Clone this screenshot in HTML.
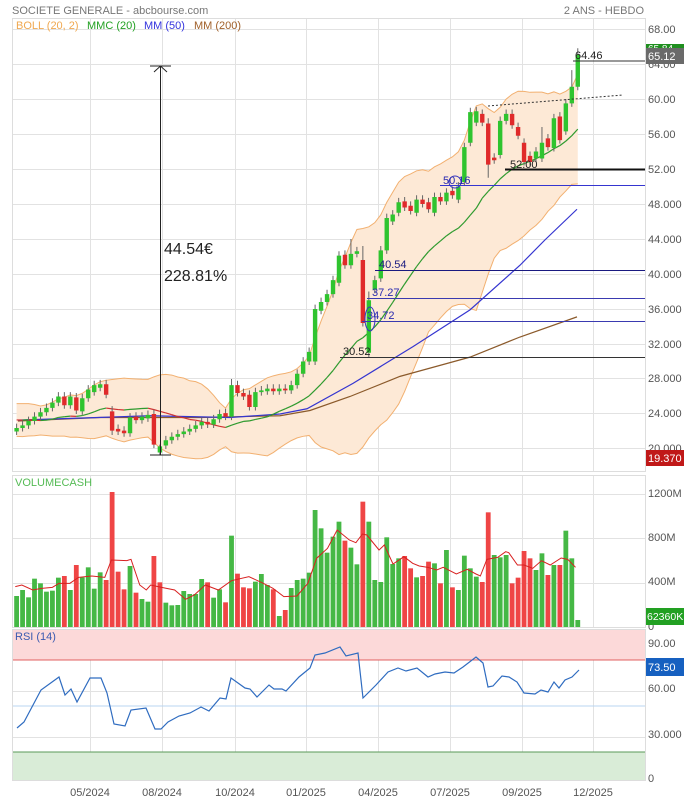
<!DOCTYPE html>
<html><head><meta charset="utf-8"><style>
body{margin:0;background:#fff;width:684px;height:800px;overflow:hidden;font-family:"Liberation Sans",sans-serif}
svg text{font-family:"Liberation Sans",sans-serif}
</style></head><body>
<svg id="s" width="684" height="800" xmlns="http://www.w3.org/2000/svg">
<rect width="684" height="800" fill="#fff"/>
<g id="grid" stroke="#e2e2e2" stroke-width="1"></g>
<rect x="12.5" y="18.5" width="633" height="453" fill="none" stroke="#ddd"/>
<rect x="12.5" y="475.5" width="633" height="152" fill="none" stroke="#ddd"/>
<rect x="12.5" y="629.5" width="633" height="151" fill="none" stroke="#ddd"/>
<!-- RSI bands -->
<rect x="13" y="630" width="632" height="30" fill="#fcd9d9"/>
<line x1="13" x2="645" y1="660" y2="660" stroke="#e06060"/>
<rect x="13" y="752" width="632" height="28" fill="#d9ecd7"/>
<line x1="13" x2="645" y1="752" y2="752" stroke="#5a9a5a"/>
<line x1="13" x2="645" y1="706" y2="706" stroke="#b8d4f0"/>
<g id="band"></g>
<g id="lines"></g>
<g id="candles"></g>
<g id="vol"></g>
<g id="rsi"></g>
<!-- horizontal level lines -->
<line x1="573" x2="645" y1="61" y2="61" stroke="#333"/>
<line x1="505" x2="645" y1="169.5" y2="169.5" stroke="#111" stroke-width="2"/>
<line x1="440" x2="645" y1="185.5" y2="185.5" stroke="#3535d0"/>
<line x1="375" x2="645" y1="270.5" y2="270.5" stroke="#1a1a80"/>
<line x1="367" x2="645" y1="298.5" y2="298.5" stroke="#3a3ab0"/>
<line x1="362" x2="645" y1="321.5" y2="321.5" stroke="#3a3ab0"/>
<line x1="340" x2="645" y1="357.5" y2="357.5" stroke="#333"/>
<line x1="488" y1="106" x2="623" y2="95" stroke="#333" stroke-dasharray="2,2"/>
<ellipse cx="370" cy="319" rx="5" ry="12" fill="none" stroke="#3535c0"/>
<circle cx="455" cy="182" r="6" fill="none" stroke="#3535c0"/>
<g font-size="11">
<text x="575" y="59" fill="#222">64.46</text>
<text x="510" y="168" fill="#222">52.00</text>
<text x="443" y="184" fill="#2a2ab0">50.16</text>
<text x="379" y="268" fill="#1a1a80">40.54</text>
<text x="372" y="296" fill="#2a2ab0">37.27</text>
<text x="367" y="319" fill="#2a2ab0">34.72</text>
<text x="343" y="355" fill="#222">30.52</text>
</g>
<!-- arrow -->
<line x1="160.5" y1="66" x2="160.5" y2="455" stroke="#222"/>
<line x1="150" x2="171" y1="66" y2="66" stroke="#222"/>
<line x1="150" x2="171" y1="455" y2="455" stroke="#222"/>
<polyline points="154,72 160.5,66 167,72" fill="none" stroke="#222"/>
<text x="164" y="254" font-size="16" fill="#222">44.54€</text>
<text x="164" y="281" font-size="16" fill="#222">228.81%</text>
<!-- titles -->
<text x="12" y="14" font-size="11" fill="#777">SOCIETE GENERALE - abcbourse.com</text>
<text x="644" y="14" font-size="11" fill="#777" text-anchor="end">2 ANS - HEBDO</text>
<g font-size="11">
<text x="16" y="29" fill="#f0a850">BOLL (20, 2)</text>
<text x="87" y="29" fill="#22a022">MMC (20)</text>
<text x="144" y="29" fill="#3333dd">MM (50)</text>
<text x="194" y="29" fill="#a0602a">MM (200)</text>
<text x="15" y="486" fill="#55bb55">VOLUMECASH</text>
<text x="15" y="640" fill="#3a5ab0">RSI (14)</text>
</g>
<!-- right axis -->
<g font-size="11" fill="#555">
<text x="648" y="33">68.00</text>
<text x="648" y="68">64.00</text>
<text x="648" y="103">60.00</text>
<text x="648" y="138">56.00</text>
<text x="648" y="173">52.00</text>
<text x="648" y="208">48.000</text>
<text x="648" y="243">44.000</text>
<text x="648" y="278">40.000</text>
<text x="648" y="313">36.000</text>
<text x="648" y="348">32.000</text>
<text x="648" y="382">28.000</text>
<text x="648" y="417">24.000</text>
<text x="648" y="452">20.000</text>
<text x="648" y="497">1200M</text>
<text x="648" y="541">800M</text>
<text x="648" y="585">400M</text>
<text x="648" y="630">0</text>
<text x="648" y="647">90.00</text>
<text x="648" y="692">60.00</text>
<text x="648" y="738">30.000</text>
<text x="648" y="782">0</text>
</g>
<rect x="646" y="44" width="38" height="10" fill="#1f8f1f"/>
<text x="648" y="52" font-size="10" fill="#fff">65.84</text>
<rect x="646" y="48" width="38" height="16" fill="#6a6a6a"/>
<text x="648" y="60" font-size="11" fill="#fff">65.12</text>
<rect x="646" y="450" width="38" height="16" fill="#c01818"/>
<text x="648" y="462" font-size="11" fill="#fff">19.370</text>
<rect x="646" y="608" width="38" height="17" fill="#22a022"/>
<text x="647" y="620" font-size="10.5" fill="#fff">62360K</text>
<rect x="646" y="658" width="38" height="18" fill="#1660c0"/>
<text x="648" y="671" font-size="11" fill="#fff">73.50</text>
<!-- x axis -->
<g font-size="11" fill="#555" text-anchor="middle">
<text x="90" y="796">05/2024</text>
<text x="162" y="796">08/2024</text>
<text x="235" y="796">10/2024</text>
<text x="306" y="796">01/2025</text>
<text x="378" y="796">04/2025</text>
<text x="450" y="796">07/2025</text>
<text x="522" y="796">09/2025</text>
<text x="593" y="796">12/2025</text>
</g>
</svg>
<script>
const NS="http://www.w3.org/2000/svg";
function el(p,t,a){const e=document.createElementNS(NS,t);for(const k in a)e.setAttribute(k,a[k]);p.appendChild(e);return e;}
const Y=p=>99+(60-p)*8.75, X=i=>16.6+i*5.97;
// grid
const g=document.getElementById('grid');
[90,162,235,306,378,450,522,593].forEach(x=>{el(g,'line',{x1:x+.5,x2:x+.5,y1:19,y2:471});el(g,'line',{x1:x+.5,x2:x+.5,y1:476,y2:627});el(g,'line',{x1:x+.5,x2:x+.5,y1:630,y2:780});});
[29,64,99,134,169,204,239,274,309,344,378,413,448].forEach(y=>el(g,'line',{x1:13,x2:645,y1:y+.5,y2:y+.5}));
[494,538,583].forEach(y=>el(g,'line',{x1:13,x2:645,y1:y+.5,y2:y+.5}));
[645,691,737].forEach(y=>el(g,'line',{x1:13,x2:645,y1:y+.5,y2:y+.5}));
// data [o,c,(h),(l)]
const D=[[22,22.4],[22.4,22.7],[22.7,23.2],[23.2,23.7],[23.7,24.2],[24.2,24.7],[24.7,25.3],[25.3,26],[26,25],[25,26],
[25.9,24.4],[24.3,25.8],[25.8,26.8],[26.5,27.3],[27,27.4],[27.4,26.2],[24.3,22.1,24.9,21.6],[22.3,22],[22.1,21.8],[21.8,23.6],
[23.7,23.3],[23.3,23.7],[23.5,23.9],[24,20.5],[19.6,20.3,20.5,19.3],[20.4,21],[21,21.4],[21.4,21.7],[21.7,22],[22,22.3],
[22.3,22.7],[22.7,23.1],[23.1,22.8],[22.8,23.4],[23.4,24],[24.1,23.7],[23.7,27.3,28],[27.3,26.4],[26.4,26],[26.2,24.8],
[24.8,26.5],[26.5,26.7],[26.6,26.9],[26.9,26.6],[26.6,26.9],[26.9,26.7],[26.7,27.3],[27.3,28.6],[28.6,30],[30,31.1],
[30,36],[35.8,36.8],[36.8,37.7],[37.7,39.3],[39,42.1],[42.2,41],[41,42.3,44],[42.3,42.6],[41.6,34.4,43.2],[31,37,38,30.5],
[38.2,39.3],[39.5,42.7],[42.7,46.4],[46,46.8],[47,48.2],[48.3,47.6],[47.8,47.2],[47,48.5],[48.5,48],[48.2,47.4],
[47,48.8],[48.8,48.3],[48.3,49.3],[49.5,49],[48.5,50],[50.5,54.5],[55,58.5],[57.3,58.6],[58.3,57.3],[57.2,52.5,57.8,51],
[53.3,53],[53.6,57.5],[57.5,58.3],[58.3,57],[56.8,55.8],[55,52.8],[53.5,52.8],[53.2,54],[53.2,55,56.8],[55.5,54.5],
[54.4,57.8],[58,55.3],[56.3,59.5],[59.5,61.4,63.3],[61.4,65.1,65.8]];
const cg=document.getElementById('candles');
D.forEach((d,i)=>{const [o,c]=d;const h=d[2]||Math.max(o,c)+0.5,l=d[3]||Math.min(o,c)-0.4;const x=X(i);
const col=c>=o?'#2fc42f':'#e02a2a';
el(cg,'line',{x1:x,x2:x,y1:Y(h),y2:Y(l),stroke:'#666','stroke-width':1});
const t=Y(Math.max(o,c)),b=Y(Math.min(o,c));el(cg,'rect',{x:x-2.2,y:t,width:4.4,height:Math.max(1,b-t),fill:col});});
// band & MMC
const pre=[24,23,22.5,24.5,25,24,23,22,23.5,24.5,25,24,23,22.5,22,23,24,23.5,22.8,22.2];
const C=pre.concat(D.map(d=>d[1]));
let up=[],lo=[],ma=[];
D.forEach((d,i)=>{const w=C.slice(i+1,i+21);const m=w.reduce((a,b)=>a+b)/20;const sd=Math.sqrt(w.reduce((a,b)=>a+(b-m)*(b-m),0)/20);ma.push(m);up.push(m+2*sd);lo.push(m-2*sd);});
const bg=document.getElementById('band');
let pts=up.map((v,i)=>X(i)+','+Y(v)).concat(lo.map((v,i)=>X(i)+','+Y(v)).reverse());
el(bg,'polygon',{points:pts.join(' '),fill:'#fde9d6',stroke:'none'});
el(bg,'polyline',{points:up.map((v,i)=>X(i)+','+Y(v)).join(' '),fill:'none',stroke:'#f2b070'});
el(bg,'polyline',{points:lo.map((v,i)=>X(i)+','+Y(v)).join(' '),fill:'none',stroke:'#f2b070'});
const lg=document.getElementById('lines');
const brown=[[18,23.2],[100,23.6],[200,23.6],[280,23.8],[310,24.4],[350,26],[400,28.3],[470,30.5],[520,32.8],[577,35.1]];
el(lg,'polyline',{points:brown.map(p=>p[0]+','+Y(p[1])).join(' '),fill:'none',stroke:'#8b5a2b','stroke-width':1.2});
const blue=[[18,23.3],[150,23.8],[230,23.6],[280,24],[307,24.6],[353,27.5],[413,31.7],[470,35.9],[520,41],[545,43.9],[577,47.4]];
el(lg,'polyline',{points:blue.map(p=>p[0]+','+Y(p[1])).join(' '),fill:'none',stroke:'#3535d0','stroke-width':1.2});
for(let i=1;i<ma.length;i++){el(lg,'line',{x1:X(i-1),y1:Y(ma[i-1]),x2:X(i),y2:Y(ma[i]),stroke:ma[i]>=ma[i-1]?'#2e9a2e':'#d03030','stroke-width':1.2});}
// volume
const VY=[378,360,382,326,340,365,362,323,318,360,285,322,292,356,307,330,66,305,358,288,368,387,395,258,337,398,406,405,363,372,372,327,337,383,358,397,197,311,352,355,335,312,345,358,438,420,354,330,326,308,120,175,248,200,155,212,233,283,95,155,330,336,202,282,265,258,295,322,318,275,280,340,240,352,360,257,295,320,336,127,255,262,255,340,323,243,265,300,250,315,285,285,182,265,450];
const red=new Set([8,10,15,16,17,18,20,23,24,32,35,37,38,39,43,45,55,58,65,66,68,69,71,73,78,79,83,84,85,86,89,91]);
const vg=document.getElementById('vol');
VY.forEach((zy,i)=>{const t=zy/3+470;el(vg,'rect',{x:X(i)-2.4,y:t,width:4.8,height:627-t,fill:red.has(i)?'#ef4545':'#45b845'});});
const VM=[[35,350],[50,345],[75,360],[95,355],[120,352],[135,340],[160,340],[180,322],[210,318],[240,322],[255,270],[290,272],[300,268],[320,345],[335,360],[345,345],[370,352],[400,360],[425,388],[445,375],[470,345],[500,360],[530,332],[570,320],[600,338],[625,355],[650,380],[680,378],[705,340],[725,265],[750,235],[772,180],[800,210],[815,218],[830,192],[840,195],[868,240],[880,225],[900,282],[925,260],[945,280],[960,288],[980,292],[1000,300],[1015,292],[1045,312],[1070,298],[1090,312],[1100,318],[1115,268],[1140,262],[1158,245],[1165,248],[1185,285],[1200,285],[1220,295],[1240,272],[1260,285],[1285,264],[1300,268],[1318,292]];
el(vg,'polyline',{points:VM.map(p=>(p[0]/2.29)+','+(p[1]/3+470)).join(' '),fill:'none',stroke:'#d82020','stroke-width':1});
// RSI
const R=[[17,728],[24,722],[41,690],[59,677],[65,695],[71,689],[77,702],[90,678],[101,678],[107,693],[114,724],[125,726],[131,710],[146,708],[155,729],[161,729],[168,722],[179,716],[190,713],[201,707],[209,711],[220,698],[226,699],[231,678],[238,683],[245,688],[250,689],[257,697],[269,685],[274,689],[282,689],[286,691],[299,677],[310,668],[315,655],[325,653],[340,647],[346,656],[358,653],[363,698],[376,685],[388,672],[398,668],[406,671],[417,668],[428,677],[435,674],[445,672],[454,673],[463,667],[476,657],[483,663],[488,687],[493,686],[502,676],[509,677],[517,682],[524,693],[535,694],[541,690],[548,692],[554,682],[559,688],[565,680],[572,677],[579,670]];
el(document.getElementById('rsi'),'polyline',{points:R.map(p=>p.join(',')).join(' '),fill:'none',stroke:'#2f6cc0','stroke-width':1.2});
</script>
</body></html>
